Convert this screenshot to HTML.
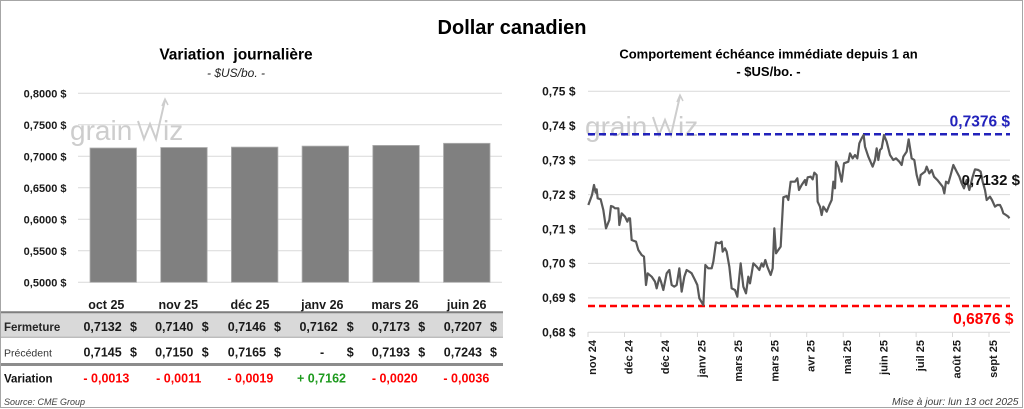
<!DOCTYPE html>
<html><head><meta charset="utf-8"><style>
html,body{margin:0;padding:0;background:#fff;}
svg{display:block;font-family:"Liberation Sans",Arial,sans-serif;}
</style></head><body>
<svg width="1024" height="409" viewBox="0 0 1024 409" xmlns="http://www.w3.org/2000/svg">
<rect x="0" y="0" width="1024" height="409" fill="#fff"/>
<rect x="0.5" y="0.5" width="1022" height="407" fill="none" stroke="#a6a6a6" stroke-width="1"/>

<!-- Main title -->
<text x="512" y="34" text-anchor="middle" font-size="20" font-weight="bold" fill="#000">Dollar canadien</text>

<!-- LEFT CHART -->
<text x="236" y="59.5" text-anchor="middle" font-size="15.5" font-weight="bold" fill="#000" xml:space="preserve">Variation  journalière</text>
<text x="236" y="77" text-anchor="middle" font-size="12" font-style="italic" fill="#222">- $US/bo. -</text>

<g stroke="#d9d9d9" stroke-width="1">
<line x1="78" y1="93.3" x2="502" y2="93.3"/>
<line x1="78" y1="124.8" x2="502" y2="124.8"/>
<line x1="78" y1="156.3" x2="502" y2="156.3"/>
<line x1="78" y1="187.8" x2="502" y2="187.8"/>
<line x1="78" y1="219.3" x2="502" y2="219.3"/>
<line x1="78" y1="250.8" x2="502" y2="250.8"/>
<line x1="78" y1="282.3" x2="502" y2="282.3"/>
</g>
<g font-size="11" font-weight="bold" fill="#1a1a1a" text-anchor="end">
<text x="66.5" y="97.3">0,8000 $</text>
<text x="66.5" y="128.8">0,7500 $</text>
<text x="66.5" y="160.3">0,7000 $</text>
<text x="66.5" y="191.8">0,6500 $</text>
<text x="66.5" y="223.3">0,6000 $</text>
<text x="66.5" y="254.8">0,5500 $</text>
<text x="66.5" y="286.3">0,5000 $</text>
</g>

<!-- watermark left -->
<g id="wm" fill="#cdcdcd" stroke="none">
<text x="70" y="140" font-size="28" fill="#cdcdcd">grain</text>
<polyline points="138,121 144,139 150,124 156,139 165,100" fill="none" stroke="#cdcdcd" stroke-width="2"/>
<polyline points="162,106 165,99 168,105" fill="none" stroke="#cdcdcd" stroke-width="1.5"/>
<text x="163" y="140" font-size="28" fill="#cdcdcd">iz</text>
</g>

<g fill="#808080" stroke="#b0b0b0" stroke-width="0.8">
<rect x="90" y="148" width="46.5" height="134.3"/>
<rect x="160.7" y="147.5" width="46.5" height="134.8"/>
<rect x="231.4" y="147.1" width="46.5" height="135.2"/>
<rect x="302.1" y="146.1" width="46.5" height="136.2"/>
<rect x="372.8" y="145.4" width="46.5" height="136.9"/>
<rect x="443.5" y="143.3" width="46.5" height="139"/>
</g>

<!-- Table -->
<g font-size="12.5" font-weight="bold" fill="#1a1a1a" text-anchor="middle">
<text x="106.3" y="309">oct 25</text>
<text x="178.3" y="309">nov 25</text>
<text x="250" y="309">déc 25</text>
<text x="322.3" y="309">janv 26</text>
<text x="395" y="309">mars 26</text>
<text x="466.7" y="309">juin 26</text>
</g>
<rect x="1" y="313" width="502" height="24" fill="#d9d9d9"/>
<line x1="1" y1="312.3" x2="503" y2="312.3" stroke="#7f7f7f" stroke-width="2"/>
<line x1="1" y1="337.3" x2="503" y2="337.3" stroke="#a6a6a6" stroke-width="1"/>
<line x1="1" y1="364.5" x2="503" y2="364.5" stroke="#8c8c8c" stroke-width="3"/>

<text x="4" y="331" font-size="11.5" font-weight="bold" fill="#262626">Fermeture</text>
<text x="4" y="356.7" font-size="10.5" fill="#333">Précédent</text>
<text x="4" y="382.3" font-size="11.5" font-weight="bold" fill="#111">Variation</text>

<g font-size="12.5" font-weight="bold" fill="#1a1a1a">
<g text-anchor="end">
<text x="121.7" y="331">0,7132</text>
<text x="193.3" y="331">0,7140</text>
<text x="266" y="331">0,7146</text>
<text x="337.7" y="331">0,7162</text>
<text x="410" y="331">0,7173</text>
<text x="482" y="331">0,7207</text>
<text x="121.7" y="356.7">0,7145</text>
<text x="193.3" y="356.7">0,7150</text>
<text x="266" y="356.7">0,7165</text>
<text x="410" y="356.7">0,7193</text>
<text x="482" y="356.7">0,7243</text>
</g>
<text x="320" y="356.7">-</text>
<text x="130" y="331">$</text><text x="201.7" y="331">$</text><text x="274" y="331">$</text><text x="346.7" y="331">$</text><text x="418.3" y="331">$</text><text x="490" y="331">$</text>
<text x="130" y="356.7">$</text><text x="201.7" y="356.7">$</text><text x="274" y="356.7">$</text><text x="346.7" y="356.7">$</text><text x="418.3" y="356.7">$</text><text x="490" y="356.7">$</text>
</g>
<g font-size="12.5" font-weight="bold" text-anchor="end" fill="#ff0000">
<text x="129.3" y="382.3">- 0,0013</text>
<text x="201.3" y="382.3">- 0,0011</text>
<text x="273.3" y="382.3">- 0,0019</text>
<text x="346" y="382.3" fill="#1e9a1e">+ 0,7162</text>
<text x="417.7" y="382.3">- 0,0020</text>
<text x="489.3" y="382.3">- 0,0036</text>
</g>
<text x="4" y="405" font-size="9" font-style="italic" fill="#404040">Source: CME Group</text>
<text x="1018.5" y="405" font-size="10.3" font-style="italic" fill="#404040" text-anchor="end">Mise à jour: lun 13 oct 2025</text>

<!-- RIGHT CHART -->
<text x="768.5" y="58.5" text-anchor="middle" font-size="13" font-weight="bold" fill="#000">Comportement échéance immédiate depuis 1 an</text>
<text x="768.5" y="76" text-anchor="middle" font-size="13" font-weight="bold" fill="#000">- $US/bo. -</text>

<g stroke="#d9d9d9" stroke-width="1">
<line x1="588" y1="91.3" x2="1010" y2="91.3"/>
<line x1="588" y1="125.7" x2="1010" y2="125.7"/>
<line x1="588" y1="160.1" x2="1010" y2="160.1"/>
<line x1="588" y1="194.6" x2="1010" y2="194.6"/>
<line x1="588" y1="229" x2="1010" y2="229"/>
<line x1="588" y1="263.4" x2="1010" y2="263.4"/>
<line x1="588" y1="297.9" x2="1010" y2="297.9"/>
<line x1="588" y1="332.3" x2="1010" y2="332.3"/>
<line x1="588" y1="332" x2="588" y2="337"/>
<line x1="624.5" y1="332" x2="624.5" y2="337"/>
<line x1="660.9" y1="332" x2="660.9" y2="337"/>
<line x1="697.4" y1="332" x2="697.4" y2="337"/>
<line x1="733.8" y1="332" x2="733.8" y2="337"/>
<line x1="770.3" y1="332" x2="770.3" y2="337"/>
<line x1="806.7" y1="332" x2="806.7" y2="337"/>
<line x1="843.2" y1="332" x2="843.2" y2="337"/>
<line x1="879.6" y1="332" x2="879.6" y2="337"/>
<line x1="916.1" y1="332" x2="916.1" y2="337"/>
<line x1="952.5" y1="332" x2="952.5" y2="337"/>
<line x1="989" y1="332" x2="989" y2="337"/>
</g>
<g font-size="12" font-weight="bold" fill="#1a1a1a" text-anchor="end">
<text x="575.5" y="95.6">0,75 $</text>
<text x="575.5" y="130">0,74 $</text>
<text x="575.5" y="164.4">0,73 $</text>
<text x="575.5" y="198.9">0,72 $</text>
<text x="575.5" y="233.3">0,71 $</text>
<text x="575.5" y="267.7">0,70 $</text>
<text x="575.5" y="302.2">0,69 $</text>
<text x="575.5" y="336.6">0,68 $</text>
</g>
<g font-size="11" font-weight="bold" fill="#1a1a1a" text-anchor="end">
<text transform="translate(596,340) rotate(-90)">nov 24</text>
<text transform="translate(632.5,340) rotate(-90)">déc 24</text>
<text transform="translate(668.9,340) rotate(-90)">déc 24</text>
<text transform="translate(705.4,340) rotate(-90)">janv 25</text>
<text transform="translate(741.8,340) rotate(-90)">mars 25</text>
<text transform="translate(778.3,340) rotate(-90)">mars 25</text>
<text transform="translate(814.7,340) rotate(-90)">avr 25</text>
<text transform="translate(851.2,340) rotate(-90)">mai 25</text>
<text transform="translate(887.6,340) rotate(-90)">juin 25</text>
<text transform="translate(924.1,340) rotate(-90)">juil 25</text>
<text transform="translate(960.5,340) rotate(-90)">août 25</text>
<text transform="translate(997,340) rotate(-90)">sept 25</text>
</g>

<!-- watermark right -->
<g transform="translate(515,-4)">
<text x="70" y="140" font-size="28" fill="#cdcdcd">grain</text>
<polyline points="138,121 144,139 150,124 156,139 165,100" fill="none" stroke="#cdcdcd" stroke-width="2"/>
<polyline points="162,106 165,99 168,105" fill="none" stroke="#cdcdcd" stroke-width="1.5"/>
<text x="163" y="140" font-size="28" fill="#cdcdcd">iz</text>
</g>

<line x1="588" y1="134.2" x2="1010" y2="134.2" stroke="#2222bb" stroke-width="2.5" stroke-dasharray="7,4"/>
<line x1="588" y1="306" x2="1010" y2="306" stroke="#ff0000" stroke-width="2.5" stroke-dasharray="7,4"/>

<g transform="translate(512,0) scale(0.33333)">
<polyline fill="none" stroke="#595959" stroke-width="2.2" vector-effect="non-scaling-stroke" stroke-linejoin="round" points="229,615 240,585 246,555 251,578 254,568 257,595 266,598 274,630 282,685 292,660 297,618 303,620 309,625 319,625 322,675 329,640 339,650 346,665 350,655 354,655 359,720 372,725 379,750 389,765 396,770 402,855 407,820 419,830 429,845 434,865 442,832 447,845 454,870 464,820 472,810 479,855 487,860 494,855 502,805 509,875 517,830 524,810 532,815 539,820 549,840 556,855 562,895 574,915 580,795 589,805 599,805 604,785 612,727 622,730 629,725 632,755 639,745 644,755 652,800 659,865 669,870 676,890 686,790 694,860 702,880 709,830 714,850 724,790 734,800 742,810 749,790 754,800 760,780 766,800 776,825 782,805 787,685 792,760 799,750 806,740 814,592 824,588 829,600 836,545 849,545 856,535 861,570 869,555 879,540 882,555 887,532 896,530 902,538 907,518 914,525 917,605 924,620 929,645 934,620 944,635 952,615 959,600 964,545 969,565 972,485 979,500 989,545 996,490 1009,485 1014,460 1022,475 1029,465 1036,475 1042,430 1049,415 1055,405 1059,440 1069,470 1082,500 1089,480 1094,445 1099,480 1104,450 1109,445 1116,405 1124,425 1134,465 1144,480 1152,475 1162,485 1169,495 1174,470 1184,455 1190,418 1199,475 1207,480 1214,525 1222,555 1226,525 1239,515 1244,500 1252,520 1259,510 1266,530 1276,540 1284,550 1292,560 1297,580 1302,545 1309,550 1316,525 1324,495 1334,515 1342,530 1349,550 1356,565 1364,540 1372,570 1382,530 1389,508 1399,510 1406,515 1412,545 1419,570 1424,600 1434,590 1440,600 1449,620 1456,615 1464,615 1469,625 1474,640 1482,645 1489,650 1492,655"/>
</g>

<text x="1010" y="126.5" text-anchor="end" font-size="15.5" font-weight="bold" fill="#2222bb">0,7376 $</text>
<text x="1013.5" y="324" text-anchor="end" font-size="15.5" font-weight="bold" fill="#ff0000">0,6876 $</text>
<text x="1020" y="185" text-anchor="end" font-size="15" font-weight="bold" fill="#111">0,7132 $</text>
</svg>
</body></html>
